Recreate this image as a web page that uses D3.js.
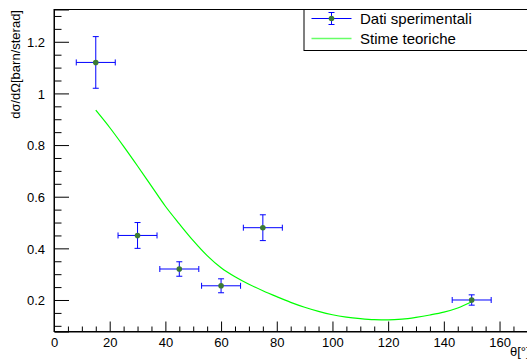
<!DOCTYPE html>
<html>
<head>
<meta charset="utf-8">
<script src="https://cdn.jsdelivr.net/npm/d3@7"></script>
<style>
  html, body { margin: 0; padding: 0; background: #fff; }
  svg { display: block; font-family: "Liberation Sans", Arial, Helvetica, sans-serif; }
</style>
</head>
<body>
<svg id="chart" width="527" height="359"></svg>
<script>
// --- DATA ---
const theta = [15, 30, 45, 60, 75, 150];
const thetaErr = [7, 7, 7, 7, 7, 7];
const sigma = [1.12, 0.45, 0.32, 0.255, 0.48, 0.2];
const sigmaErr = [0.10, 0.05, 0.028, 0.027, 0.05, 0.02];

const thetaTheory = [15, 20, 25, 30, 35, 40, 45, 50, 55, 60, 65, 70, 75, 80, 85, 90,
                     95, 100, 105, 110, 115, 120, 125, 130, 135, 140, 145, 150];
const sigmaTheory = [0.935, 0.868, 0.795, 0.719, 0.641, 0.563, 0.495, 0.430, 0.372, 0.325,
                     0.290, 0.261, 0.236, 0.213, 0.191, 0.172, 0.156, 0.143, 0.134, 0.128,
                     0.124, 0.123, 0.126, 0.133, 0.142, 0.153, 0.169, 0.193];

const xMajor = [0, 20, 40, 60, 80, 100, 120, 140, 160];
const yMajor = [0.2, 0.4, 0.6, 0.8, 1, 1.2];
const legendLabels = ["Dati sperimentali", "Stime teoriche"];

// --- SETUP ---
const svg = d3.select("#chart");
const frame = { left: 54, top: 9.5, right: 531, bottom: 331.5 };

const x = d3.scaleLinear().domain([0, 171.3]).range([frame.left, frame.right]);
const y = d3.scaleLinear().domain([0.078, 1.325]).range([frame.bottom, frame.top]);

const blue = "#0000ff", green = "#00ff00", marker = "#3b7a35";

// frame
svg.append("rect")
    .attr("x", frame.left).attr("y", frame.top)
    .attr("width", frame.right - frame.left).attr("height", frame.bottom - frame.top)
    .attr("fill", "none").attr("stroke", "#000").attr("stroke-width", 1);

// --- AXES ---
const xMinor = d3.range(0, 171, 5).filter(v => !xMajor.includes(v));
const yMinor = d3.range(0.1, 1.31, 0.05).map(v => +v.toFixed(2)).filter(v => !yMajor.some(m => Math.abs(m - v) < 1e-6));

const xAxis = svg.append("g").attr("transform", `translate(0,${frame.bottom})`)
    .call(d3.axisBottom(x).tickValues(xMajor).tickSize(-10).tickFormat(d3.format("d")));
svg.append("g").attr("transform", `translate(0,${frame.bottom})`)
    .call(d3.axisBottom(x).tickValues(xMinor).tickSize(-5).tickFormat(""))
    .select(".domain").remove();

const yAxis = svg.append("g").attr("transform", `translate(${frame.left},0)`)
    .call(d3.axisLeft(y).tickValues(yMajor).tickSize(-15)
        .tickFormat(d => d === 1 ? "1" : d3.format(".1f")(d)));
svg.append("g").attr("transform", `translate(${frame.left},0)`)
    .call(d3.axisLeft(y).tickValues(yMinor).tickSize(-7.5).tickFormat(""))
    .select(".domain").remove();

svg.selectAll(".tick text").attr("font-size", 13).attr("fill", "#000")
    .attr("font-family", "'Liberation Sans', Arial, sans-serif");
svg.selectAll(".domain").attr("stroke", "#000");
svg.selectAll(".tick line").attr("stroke", "#000");
yAxis.selectAll(".tick text").attr("x", -9).attr("dy", "0.36em");
xAxis.selectAll(".tick text").attr("y", 15).attr("dy", 0);

// axis titles
svg.append("text")
    .attr("x", 510).attr("y", 356)
    .attr("font-size", 13)
    .text("θ[°]");

svg.append("text")
    .attr("transform", "translate(20,10) rotate(-90)")
    .attr("text-anchor", "end")
    .attr("font-size", 13)
    .text("dσ/dΩ[barn/sterad]");

// --- THEORY CURVE ---
const line = d3.line().x(d => x(d[0])).y(d => y(d[1])).curve(d3.curveMonotoneX);
svg.append("path")
    .datum(thetaTheory.map((t, i) => [t, sigmaTheory[i]]))
    .attr("d", line)
    .attr("fill", "none").attr("stroke", green).attr("stroke-width", 1.2);

// --- DATA POINTS WITH ERRORS ---
const pts = theta.map((t, i) => ({ t, s: sigma[i], et: thetaErr[i], es: sigmaErr[i] }));
const cap = 3;
const pg = svg.append("g").attr("stroke", blue).attr("stroke-width", 1).attr("fill", "none");

pts.forEach(d => {
    const cx = x(d.t), cy = y(d.s);
    const x0 = x(d.t - d.et), x1 = x(d.t + d.et);
    const y0 = y(d.s - d.es), y1 = y(d.s + d.es);
    pg.append("path").attr("d",
        `M${x0},${cy}H${x1}` +
        `M${x0},${cy - cap}V${cy + cap}M${x1},${cy - cap}V${cy + cap}` +
        `M${cx},${y0}V${y1}` +
        `M${cx - cap},${y0}H${cx + cap}M${cx - cap},${y1}H${cx + cap}`);
});

svg.append("g").selectAll("circle")
    .data(pts).join("circle")
    .attr("cx", d => x(d.t)).attr("cy", d => y(d.s))
    .attr("r", 2.8).attr("fill", marker);

// --- LEGEND ---
const lg = svg.append("g");
lg.append("rect")
    .attr("x", 304).attr("y", frame.top).attr("width", 240).attr("height", 50.5 - frame.top)
    .attr("fill", "#fff").attr("stroke", "#000").attr("stroke-width", 1);

const ly1 = 18.5, ly2 = 38.5, lx0 = 311.5, lx1 = 351.5, lxc = 331.5;
lg.append("path")
    .attr("d", `M${lx0},${ly1}H${lx1}M${lxc},${ly1 - 6}V${ly1 + 6}M${lxc - 3},${ly1 - 6}H${lxc + 3}M${lxc - 3},${ly1 + 6}H${lxc + 3}`)
    .attr("stroke", blue).attr("fill", "none");
lg.append("circle").attr("cx", lxc).attr("cy", ly1).attr("r", 2.8).attr("fill", marker);
lg.append("path")
    .attr("d", `M${lx0},${ly2}H${lx1}`)
    .attr("stroke", green).attr("stroke-width", 1.5).attr("stroke-opacity", 0.6);

lg.selectAll("text.leg")
    .data(legendLabels).join("text")
    .attr("class", "leg")
    .attr("x", 360).attr("y", (d, i) => [23.5, 43.5][i])
    .attr("font-size", 15)
    .text(d => d);
</script>
</body>
</html>
